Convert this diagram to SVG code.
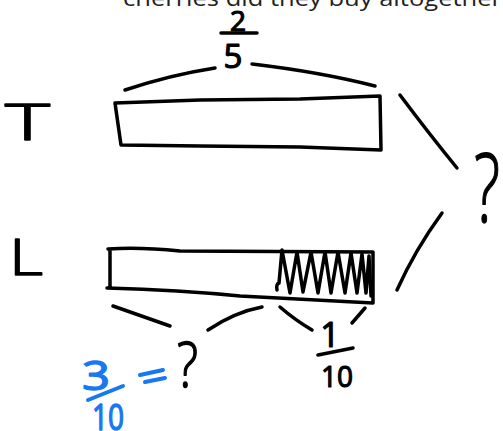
<svg xmlns="http://www.w3.org/2000/svg" width="503" height="431" viewBox="0 0 503 431">
<style>
.s{fill:none;stroke:#000;stroke-width:3.5;stroke-linecap:round;stroke-linejoin:round}
.b{fill:none;stroke:#1877F2;stroke-width:4;stroke-linecap:round}
.h{font-family:"Open Sans","DejaVu Sans",sans-serif;font-weight:400;fill:#000;stroke:#000;stroke-width:1.2;stroke-linejoin:round}
.t{font-family:"Open Sans","DejaVu Sans",sans-serif;font-weight:300;fill:#000;stroke:#000;stroke-width:1.4;stroke-linejoin:round}
.hb{font-family:"Open Sans","DejaVu Sans",sans-serif;font-weight:400;fill:#1877F2;stroke:#1877F2;stroke-width:1.4;stroke-linejoin:round}
</style>
<rect width="503" height="431" fill="#fff"/>
<text x="123" y="6" font-family="'Open Sans','Liberation Sans',sans-serif" font-size="22" fill="#222" textLength="379" lengthAdjust="spacingAndGlyphs">cherries did they buy altogether</text>
<g id="label-T"><text class="t" x="5" y="140" font-size="50" textLength="45" lengthAdjust="spacingAndGlyphs">T</text></g>
<g id="label-L"><text class="t" x="9" y="275" font-size="50" textLength="34" lengthAdjust="spacingAndGlyphs">L</text></g>
<g id="bar-T"><path class="s" d="M115,103 L200,100 L300,99 L380,96 L381,150 L300,147 L200,146 L121,145 Z"/></g>
<g id="bar-L">
<path class="s" d="M108,249 Q140,247 180,251 L373,252 L373,303 L240,296 Q180,290 107,288 M110,249 L110,288"/>
<path class="s" d="M277,290 Q276,284 279,283 L282,250 L290,293 L297,252 L303,292 L311,252 L318,293 L325,252 L331,293 L338,252 L345,293 L351,253 L357,293 L362,254 L366,293 L369,256 L371,296"/>
</g>
<g id="label-2-5">
<text class="h" x="238" y="31" font-size="28" text-anchor="middle">2</text>
<line class="s" x1="221" y1="33" x2="257" y2="33"/>
<text class="h" x="233" y="68" font-size="33" text-anchor="middle">5</text>
</g>
<g id="label-total">
<text class="t" x="474" y="222" font-size="96" textLength="26" lengthAdjust="spacingAndGlyphs">?</text>
</g>
<g id="label-unknown">
<text class="t" x="177" y="387" font-size="62" textLength="21" lengthAdjust="spacingAndGlyphs">?</text>
</g>
<g id="label-1-10">
<text class="h" x="330" y="347" font-size="34" text-anchor="middle">1</text>
<line class="s" x1="318" y1="355" x2="353" y2="348"/>
<text class="h" x="321" y="387" font-size="30" textLength="32" lengthAdjust="spacingAndGlyphs">10</text>
</g>
<g id="label-3-10">
<text class="hb" x="82" y="390" font-size="40" textLength="28" lengthAdjust="spacingAndGlyphs">3</text>
<line class="b" x1="88" y1="400" x2="123" y2="386"/>
<text class="hb" x="92" y="430" font-size="36" textLength="32" lengthAdjust="spacingAndGlyphs">10</text>
<line class="b" x1="140" y1="375" x2="163" y2="370"/>
<line class="b" x1="145" y1="382" x2="165" y2="378"/>
</g>
<g id="connectors">
<path class="s" d="M125,90 Q170,75 215,68"/>
<path class="s" d="M252,64 Q320,72 375,86"/>
<path class="s" d="M400,95 Q430,135 457,168"/>
<path class="s" d="M442,213 Q415,250 397,290"/>
<path class="s" d="M113,306 L170,326"/>
<path class="s" d="M208,330 Q235,312 262,307"/>
<path class="s" d="M280,307 Q295,320 312,330"/>
<path class="s" d="M365,308 L352,323"/>
</g>
</svg>
